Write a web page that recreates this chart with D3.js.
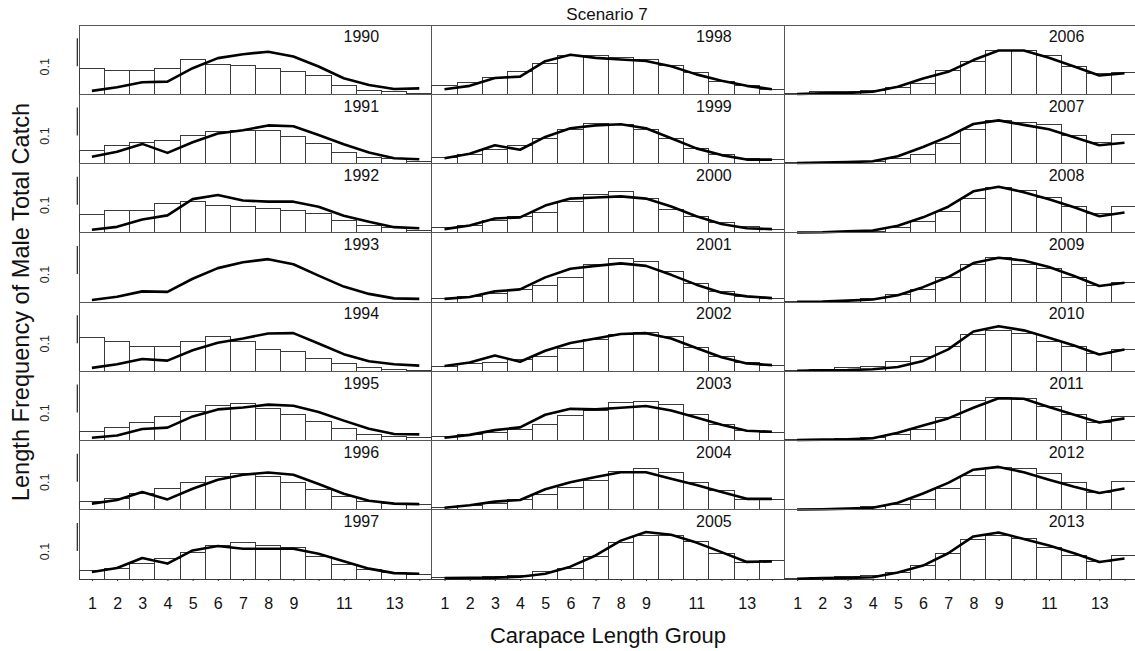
<!DOCTYPE html>
<html>
<head>
<meta charset="utf-8">
<script src="https://cdn.jsdelivr.net/npm/d3@7"></script>
<style>
  html, body { margin: 0; padding: 0; background: #fff; }
  svg { display: block; font-family: "Liberation Sans", Arial, sans-serif; }
</style>
</head>
<body>
<svg id="chart" width="1135" height="651"></svg>
<script>
// ---- Data ----
const title = "Scenario 7";
const yTitle = "Length Frequency of Male Total Catch";
const xTitle = "Carapace Length Group";
const groups = [1,2,3,4,5,6,7,8,9,10,11,12,13,14];
const xTickLabels = ["1","2","3","4","5","6","7","8","9","","11","","13",""];
const yTickValues = [0.1];
const yTickLabels = ["0.1"];
const years = [1990,1991,1992,1993,1994,1995,1996,1997,
               1998,1999,2000,2001,2002,2003,2004,2005,
               2006,2007,2008,2009,2010,2011,2012,2013];

// observed proportions (bars); null = no observations
const observed = [
  [0.093,0.085,0.085,0.093,0.123,0.107,0.102,0.093,0.082,0.067,0.032,0.014,0.010,0.004],
  [0.045,0.063,0.076,0.081,0.101,0.114,0.117,0.117,0.098,0.073,0.040,0.021,0.017,0.008],
  [0.066,0.080,0.080,0.103,0.111,0.098,0.093,0.085,0.078,0.067,0.045,0.027,0.018,0.007],
  null,
  [0.119,0.107,0.089,0.087,0.105,0.123,0.105,0.076,0.071,0.046,0.026,0.013,0.005,0.001],
  [0.033,0.046,0.066,0.085,0.104,0.126,0.133,0.116,0.092,0.068,0.043,0.021,0.014,0.010],
  [0.030,0.040,0.057,0.075,0.097,0.119,0.129,0.119,0.097,0.074,0.049,0.030,0.021,0.019],
  [0.031,0.039,0.057,0.073,0.096,0.118,0.130,0.120,0.111,0.079,0.050,0.035,0.023,0.017],
  [0.030,0.041,0.061,0.082,0.109,0.137,0.137,0.130,0.125,0.103,0.076,0.046,0.030,0.016],
  [0.021,0.033,0.049,0.065,0.090,0.122,0.143,0.141,0.121,0.089,0.054,0.032,0.018,0.014],
  [0.017,0.027,0.043,0.059,0.074,0.110,0.135,0.146,0.122,0.084,0.059,0.036,0.021,0.012],
  [0.013,0.019,0.032,0.043,0.058,0.088,0.135,0.154,0.145,0.110,0.066,0.038,0.021,0.014],
  [0.018,0.028,0.032,0.041,0.051,0.083,0.113,0.133,0.140,0.125,0.085,0.051,0.031,0.019],
  [0.013,0.022,0.028,0.041,0.056,0.088,0.107,0.134,0.140,0.130,0.092,0.056,0.035,0.028],
  [0.009,0.014,0.023,0.035,0.054,0.079,0.105,0.136,0.146,0.134,0.096,0.067,0.038,0.035],
  [0.004,0.006,0.008,0.013,0.025,0.038,0.080,0.130,0.156,0.156,0.133,0.092,0.058,0.065],
  [0.001,0.010,0.011,0.015,0.023,0.039,0.086,0.118,0.157,0.156,0.138,0.099,0.073,0.077],
  [0.002,0.003,0.004,0.007,0.017,0.033,0.071,0.123,0.154,0.148,0.141,0.099,0.074,0.105],
  [0.001,0.002,0.003,0.006,0.018,0.039,0.075,0.122,0.163,0.150,0.126,0.094,0.069,0.094],
  [0.001,0.002,0.006,0.013,0.025,0.043,0.087,0.134,0.158,0.135,0.119,0.089,0.059,0.069],
  [0.002,0.007,0.013,0.018,0.034,0.053,0.089,0.132,0.146,0.136,0.108,0.089,0.062,0.078],
  [0.002,0.003,0.006,0.012,0.022,0.039,0.083,0.142,0.155,0.149,0.121,0.092,0.064,0.085],
  [0.001,0.002,0.005,0.010,0.018,0.035,0.077,0.121,0.152,0.147,0.130,0.098,0.063,0.101],
  [0.003,0.006,0.008,0.013,0.023,0.048,0.092,0.141,0.156,0.143,0.114,0.084,0.061,0.084]
];

// predicted proportions (line)
const predicted = [
  [0.012,0.025,0.043,0.045,0.093,0.129,0.143,0.152,0.135,0.099,0.057,0.033,0.019,0.021],
  [0.024,0.042,0.070,0.038,0.076,0.107,0.119,0.136,0.133,0.102,0.069,0.039,0.019,0.015],
  [0.011,0.021,0.047,0.062,0.120,0.135,0.115,0.111,0.111,0.093,0.061,0.039,0.020,0.016],
  [0.007,0.019,0.038,0.036,0.083,0.121,0.142,0.153,0.135,0.094,0.055,0.029,0.013,0.011],
  [0.012,0.025,0.044,0.038,0.075,0.102,0.117,0.135,0.136,0.099,0.061,0.036,0.025,0.020],
  [0.010,0.018,0.041,0.046,0.086,0.111,0.118,0.128,0.124,0.102,0.071,0.042,0.023,0.022],
  [0.022,0.035,0.063,0.037,0.075,0.107,0.125,0.133,0.125,0.092,0.057,0.032,0.022,0.020],
  [0.025,0.039,0.075,0.055,0.102,0.118,0.108,0.108,0.108,0.090,0.063,0.037,0.021,0.019],
  [0.018,0.030,0.058,0.063,0.118,0.141,0.130,0.124,0.119,0.100,0.071,0.048,0.030,0.018],
  [0.019,0.035,0.065,0.049,0.095,0.126,0.136,0.140,0.126,0.090,0.054,0.030,0.014,0.014],
  [0.013,0.026,0.051,0.055,0.097,0.122,0.126,0.130,0.122,0.094,0.059,0.031,0.016,0.013],
  [0.011,0.018,0.038,0.045,0.088,0.119,0.129,0.138,0.129,0.097,0.062,0.033,0.020,0.014],
  [0.019,0.031,0.056,0.034,0.073,0.101,0.117,0.133,0.136,0.117,0.083,0.050,0.028,0.022],
  [0.010,0.020,0.037,0.047,0.092,0.113,0.111,0.117,0.123,0.107,0.082,0.056,0.035,0.031],
  [0.007,0.016,0.029,0.035,0.073,0.098,0.117,0.134,0.134,0.111,0.088,0.063,0.039,0.039],
  [0.003,0.004,0.005,0.008,0.019,0.044,0.084,0.137,0.168,0.158,0.130,0.096,0.061,0.063],
  [0.001,0.003,0.005,0.009,0.027,0.056,0.080,0.122,0.156,0.156,0.130,0.099,0.067,0.075],
  [0.002,0.003,0.005,0.008,0.026,0.059,0.096,0.141,0.154,0.138,0.122,0.094,0.065,0.074],
  [0.001,0.002,0.005,0.008,0.025,0.055,0.093,0.148,0.164,0.145,0.120,0.091,0.059,0.072],
  [0.001,0.002,0.005,0.009,0.024,0.053,0.089,0.139,0.158,0.148,0.125,0.093,0.057,0.069],
  [0.002,0.003,0.004,0.007,0.015,0.037,0.078,0.142,0.161,0.146,0.120,0.092,0.060,0.078],
  [0.002,0.003,0.004,0.008,0.028,0.054,0.079,0.117,0.151,0.149,0.120,0.092,0.064,0.079],
  [0.001,0.002,0.004,0.007,0.025,0.058,0.096,0.143,0.153,0.134,0.107,0.082,0.060,0.076],
  [0.001,0.003,0.004,0.006,0.023,0.048,0.092,0.152,0.166,0.143,0.120,0.092,0.061,0.073]
];

// ---- Layout ----
const svg = d3.select("#chart");
const left0 = 79.3, top0 = 25, colW = 352.6, rowH = 69.25, nRows = 8;
const yMax = 0.2473;

svg.append("rect").attr("width",1135).attr("height",651).attr("fill","#fff");

years.forEach((yr, i) => {
  const col = Math.floor(i / nRows), row = i % nRows;
  const x0 = left0 + col * colW, y0 = top0 + row * rowH;
  const x = d3.scaleLinear().domain([0.5, 14.5]).range([x0, x0 + colW]);
  const y = d3.scaleLinear().domain([0, yMax]).range([y0 + rowH, y0]);
  const g = svg.append("g");

  // frame
  g.append("rect")
    .attr("x", x0).attr("y", y0).attr("width", colW).attr("height", rowH)
    .attr("fill", "none").attr("stroke", "#555").attr("stroke-width", 1)
    .attr("shape-rendering", "crispEdges");

  // bars
  const obs = observed[i];
  if (obs) {
    g.selectAll("rect.bar").data(groups).enter().append("rect")
      .attr("class", "bar")
      .attr("x", d => x(d - 0.5))
      .attr("width", d => x(d + 0.5) - x(d - 0.5))
      .attr("y", (d, k) => y(obs[k]))
      .attr("height", (d, k) => y(0) - y(obs[k]))
      .attr("fill", "#fff").attr("stroke", "#3a3a3a").attr("stroke-width", 1)
      .attr("shape-rendering", "crispEdges");
  }

  // predicted line
  const pred = predicted[i];
  const line = d3.line().x((d, k) => x(groups[k])).y(d => y(d));
  g.append("path").datum(pred)
    .attr("d", line)
    .attr("fill", "none").attr("stroke", "#000").attr("stroke-width", 2.6)
    .attr("stroke-linejoin", "round");

  // year label
  g.append("text")
    .attr("x", x0 + 282).attr("y", y0 + 17.3)
    .attr("text-anchor", "middle").attr("font-size", 16).attr("fill", "#111")
    .text(yr);

  // y axis (first column only)
  if (col === 0) {
    const ax = g.append("g").attr("transform", `translate(${x0 - 2},0)`);
    ax.call(d3.axisLeft(y).tickValues(yTickValues).tickSize(0)
      .tickFormat((d, k) => yTickLabels[k]).tickPadding(0));
    ax.select(".domain").attr("d", `M0,${y(0.2)}V${y(0.1)}`).attr("stroke", "#222").attr("stroke-width", 1.2);
    ax.selectAll(".tick text")
      .attr("font-size", 12.5).attr("font-family", "Liberation Sans, Arial, sans-serif")
      .attr("fill", "#222")
      .attr("text-anchor", "middle")
      .attr("transform", "rotate(-90)")
      .attr("x", 0).attr("y", -28).attr("dy", 0);
  }

  // x axis (bottom row only)
  if (row === nRows - 1) {
    const ax = g.append("g").attr("transform", `translate(0,${y0 + rowH})`);
    ax.call(d3.axisBottom(x).tickValues(groups).tickSize(2)
      .tickFormat((d, k) => xTickLabels[k]).tickPadding(17));
    ax.select(".domain").remove();
    ax.selectAll(".tick line").attr("stroke", "#333");
    ax.selectAll(".tick text")
      .attr("font-size", 16).attr("font-family", "Liberation Sans, Arial, sans-serif")
      .attr("fill", "#111");
  }
});

// titles
svg.append("text").attr("x", 607).attr("y", 20)
  .attr("text-anchor", "middle").attr("font-size", 17).attr("fill", "#111").text(title);
svg.append("text").attr("x", 608).attr("y", 643)
  .attr("text-anchor", "middle").attr("font-size", 22).attr("fill", "#111").text(xTitle);
svg.append("text").attr("transform", "translate(29,302) rotate(-90)")
  .attr("text-anchor", "middle").attr("font-size", 23.6).attr("fill", "#111").text(yTitle);
</script>
</body>
</html>
